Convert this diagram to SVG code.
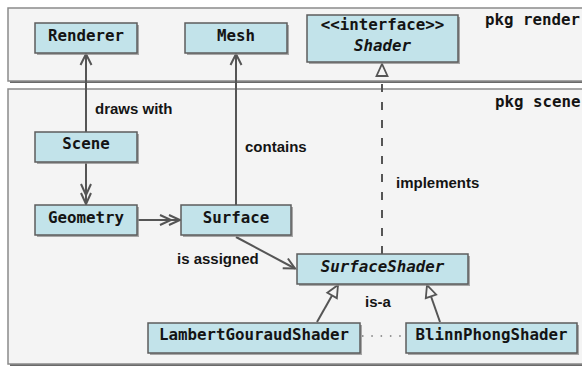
<svg xmlns="http://www.w3.org/2000/svg" width="582" height="367" viewBox="0 0 582 367">
  <style>
    .pkg { fill: #f4f4f4; stroke: #8a8a8a; stroke-width: 1.5; }
    .pkg-shadow { fill: #6a6a6a; }
    .box { fill: #c2e3ea; stroke: #5c5c5c; stroke-width: 1.5; }
    .box-shadow { fill: #8e8e8e; opacity: 0.75; }
    .name { font-family: "DejaVu Sans Mono", "Liberation Mono", monospace; font-weight: bold; font-size: 15.8px; fill: #141414; text-anchor: middle; }
    .italic { font-style: italic; }
    .pkg-label { font-family: "DejaVu Sans Mono", "Liberation Mono", monospace; font-weight: bold; font-size: 15.8px; fill: #141414; }
    .edge-label { font-family: "Liberation Sans", Arial, sans-serif; font-weight: bold; font-size: 15px; fill: #141414; }
    .edge { fill: none; stroke: #555555; stroke-width: 2; }
    .dashed { stroke-dasharray: 8 10; }
    .dotted { fill: none; stroke: #777777; stroke-width: 1.6; stroke-dasharray: 1.5 7.8; }
  </style>
  <defs>
    <marker id="open" markerUnits="userSpaceOnUse" markerWidth="14" markerHeight="14" viewBox="0 0 14 14" refX="12" refY="6" orient="auto" overflow="visible">
      <path d="M1,0.5 L12,6 L1,11.5" fill="none" stroke="#555555" stroke-width="2"/>
    </marker>
    <marker id="double" markerUnits="userSpaceOnUse" markerWidth="24" markerHeight="14" viewBox="0 0 24 14" refX="21" refY="6" orient="auto" overflow="visible">
      <path d="M10,1 L21,6 L10,11 M1,1 L12,6 L1,11" fill="none" stroke="#555555" stroke-width="2"/>
    </marker>
    <marker id="hollow" markerUnits="userSpaceOnUse" markerWidth="16" markerHeight="14" viewBox="0 0 16 14" refX="13" refY="6" orient="auto" overflow="visible">
      <path d="M1,0.5 L13,6 L1,11.5 Z" fill="#f4f4f4" stroke="#555555" stroke-width="1.8" stroke-linejoin="miter"/>
    </marker>
  </defs>

  <rect width="582" height="367" fill="#ffffff"/>

  <!-- packages -->
  <g id="pkg-render">
    <rect class="pkg-shadow" x="10" y="10" width="590" height="73"/>
    <rect class="pkg" x="8" y="8" width="590" height="73"/>
    <text class="pkg-label" x="485" y="25">pkg render</text>
  </g>
  <g id="pkg-scene">
    <rect class="pkg-shadow" x="10" y="91" width="590" height="275"/>
    <rect class="pkg" x="8" y="89" width="590" height="275"/>
    <text class="pkg-label" x="495" y="107">pkg scene</text>
  </g>

  <!-- connectors -->
  <g id="connectors">
    <line class="edge" x1="86" y1="132" x2="86" y2="54" marker-end="url(#open)"/>
    <line class="edge" x1="236" y1="205" x2="236" y2="54" marker-end="url(#open)"/>
    <line class="edge" x1="86" y1="163" x2="86" y2="204" marker-end="url(#double)"/>
    <line class="edge" x1="138" y1="220" x2="180" y2="220" marker-end="url(#double)"/>
    <line class="edge" x1="236" y1="237" x2="295" y2="268.5" marker-end="url(#open)"/>
    <line class="edge dashed" x1="382" y1="254" x2="382" y2="64" marker-end="url(#hollow)"/>
    <line class="edge" x1="317" y1="322" x2="338" y2="285" marker-end="url(#hollow)"/>
    <line class="edge" x1="440" y1="322" x2="427" y2="285" marker-end="url(#hollow)"/>
    <line class="dotted" x1="362" y1="336" x2="404" y2="336"/>
    <text class="edge-label" x="95" y="114">draws with</text>
    <text class="edge-label" x="245" y="152">contains</text>
    <text class="edge-label" x="396" y="188">implements</text>
    <text class="edge-label" x="177" y="264">is assigned</text>
    <text class="edge-label" x="365" y="307">is-a</text>
  </g>

  <!-- classes -->
  <g id="Renderer">
    <rect class="box-shadow" x="37" y="25" width="102" height="30"/>
    <rect class="box" x="35" y="23" width="102" height="30"/>
    <text class="name" x="86" y="41">Renderer</text>
  </g>
  <g id="Mesh">
    <rect class="box-shadow" x="187" y="25" width="102" height="30"/>
    <rect class="box" x="185" y="23" width="102" height="30"/>
    <text class="name" x="236" y="41">Mesh</text>
  </g>
  <g id="Shader">
    <rect class="box-shadow" x="309" y="17" width="151" height="47"/>
    <rect class="box" x="307" y="15" width="151" height="47"/>
    <text class="name" x="382.5" y="30">&lt;&lt;interface&gt;&gt;</text>
    <text class="name italic" x="382.5" y="50.5">Shader</text>
  </g>
  <g id="Scene">
    <rect class="box-shadow" x="37" y="134" width="102" height="30"/>
    <rect class="box" x="35" y="132" width="102" height="30"/>
    <text class="name" x="86" y="149">Scene</text>
  </g>
  <g id="Geometry">
    <rect class="box-shadow" x="37" y="207" width="102" height="30"/>
    <rect class="box" x="35" y="205" width="102" height="30"/>
    <text class="name" x="86" y="222.5">Geometry</text>
  </g>
  <g id="Surface">
    <rect class="box-shadow" x="183" y="207" width="110" height="30"/>
    <rect class="box" x="181" y="205" width="110" height="30"/>
    <text class="name" x="236" y="222.5">Surface</text>
  </g>
  <g id="SurfaceShader">
    <rect class="box-shadow" x="299" y="256" width="171" height="30"/>
    <rect class="box" x="297" y="254" width="171" height="30"/>
    <text class="name italic" x="382.5" y="272">SurfaceShader</text>
  </g>
  <g id="LambertGouraudShader">
    <rect class="box-shadow" x="150" y="325" width="212" height="30"/>
    <rect class="box" x="148" y="323" width="212" height="30"/>
    <text class="name" x="254" y="340">LambertGouraudShader</text>
  </g>
  <g id="BlinnPhongShader">
    <rect class="box-shadow" x="408" y="325" width="171" height="30"/>
    <rect class="box" x="406" y="323" width="171" height="30"/>
    <text class="name" x="491.5" y="340">BlinnPhongShader</text>
  </g>
</svg>
